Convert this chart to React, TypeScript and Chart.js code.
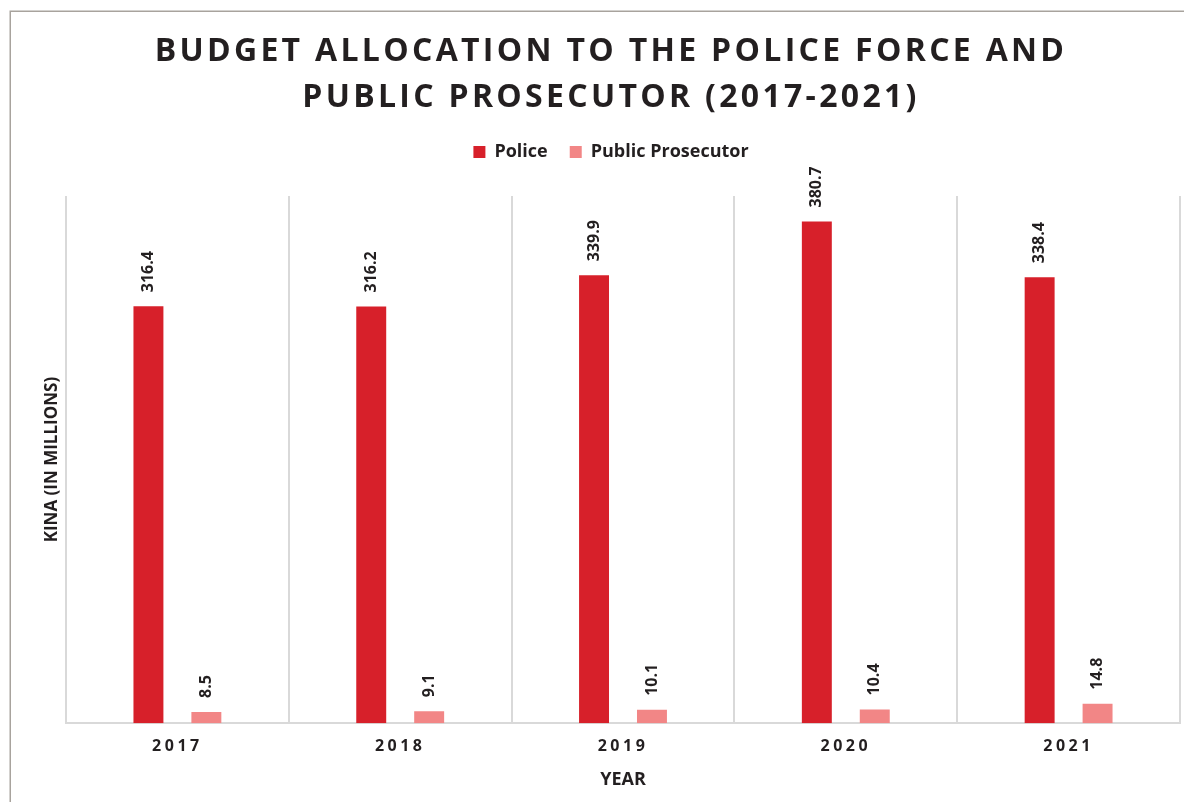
import React, { useEffect, useRef } from "react";
import { Chart, registerables } from "chart.js";

Chart.register(...registerables);

// ---- data ----
const categories = ["2017", "2018", "2019", "2020", "2021"];
const policeValues = [316.4, 316.2, 339.9, 380.7, 338.4];
const prosecutorValues = [8.5, 9.1, 10.1, 10.4, 14.8];
const seriesNames = ["Police", "Public Prosecutor"];
const titleLines = [
  "BUDGET ALLOCATION TO THE POLICE FORCE AND",
  "PUBLIC PROSECUTOR (2017-2021)",
];
const xAxisTitle = "YEAR";
const yAxisTitle = "KINA (IN MILLIONS)";
const yMin = 0;
const yMax = 400;

// ---- styles ----
const FONT = "'Open Sans', 'DejaVu Sans', sans-serif";
const TEXT = "#231f20";
const POLICE_COLOR = "#d7202a";
const PROSECUTOR_COLOR = "#f28686";
const GRID_COLOR = "#d9d9d9";
const FRAME_COLOR = "#a8a39d";

function withSpacing(obj: any, method: string, spacing: string) {
  if (!obj || obj["__sp_" + method]) return;
  const orig = obj[method];
  obj[method] = function (...args: any[]) {
    const c = this.ctx as CanvasRenderingContext2D;
    c.save();
    (c as any).letterSpacing = spacing;
    try {
      return orig.apply(this, args);
    } finally {
      c.restore();
    }
  };
  obj["__sp_" + method] = true;
}

const customPlugin = {
  id: "customDecor",
  beforeLayout(chart: any) {
    const lg = chart.legend;
    if (lg && !lg.__fitWrapped) {
      const origFit = lg.fit;
      lg.fit = function () {
        origFit.call(this);
        this.height += 25;
      };
      lg.__fitWrapped = true;
    }
  },
  beforeDraw(chart: any) {
    const ctx = chart.ctx as CanvasRenderingContext2D;
    ctx.save();
    ctx.strokeStyle = FRAME_COLOR;
    ctx.lineWidth = 1.5;
    ctx.strokeRect(10.25, 11.25, 1400, 1000);
    ctx.restore();
    withSpacing(chart.titleBlock, "draw", "3.3px");
    withSpacing(chart.scales.x, "drawLabels", "3.5px");
  },
  afterDatasetsDraw(chart: any) {
    const ctx = chart.ctx as CanvasRenderingContext2D;
    ctx.save();
    ctx.font = `bold 16px ${FONT}`;
    ctx.fillStyle = TEXT;
    ctx.textAlign = "left";
    ctx.textBaseline = "middle";
    chart.data.datasets.forEach((ds: any, di: number) => {
      const meta = chart.getDatasetMeta(di);
      meta.data.forEach((el: any, i: number) => {
        const v = ds.data[i] as number;
        ctx.save();
        ctx.translate(el.x, el.y - 14);
        ctx.rotate(-Math.PI / 2);
        ctx.fillText(v.toFixed(1), 0, 0);
        ctx.restore();
      });
    });
    ctx.restore();
  },
};

export default function App() {
  const canvasRef = useRef<HTMLCanvasElement | null>(null);

  useEffect(() => {
    let chart: Chart | null = null;
    let cancelled = false;
    const create = () => {
      if (cancelled || !canvasRef.current) return;
      chart = new Chart(canvasRef.current, {
        type: "bar",
        data: {
          labels: categories,
          datasets: [
            {
              label: seriesNames[0],
              data: policeValues,
              backgroundColor: POLICE_COLOR,
              barPercentage: 0.517,
              categoryPercentage: 0.52,
            },
            {
              label: seriesNames[1],
              data: prosecutorValues,
              backgroundColor: PROSECUTOR_COLOR,
              barPercentage: 0.517,
              categoryPercentage: 0.52,
            },
          ],
        },
        options: {
          responsive: false,
          animation: false,
          devicePixelRatio: 1,
          layout: { padding: { top: 0, left: 42, right: 4, bottom: 12 } },
          plugins: {
            title: {
              display: true,
              text: titleLines,
              color: TEXT,
              font: { family: FONT, size: 32, weight: "bold", lineHeight: 46 / 32 },
              padding: { top: 29, bottom: 0 },
            },
            legend: {
              display: true,
              position: "top",
              labels: {
                boxWidth: 12,
                boxHeight: 12,
                padding: 22,
                color: TEXT,
                font: { family: FONT, size: 18, weight: "bold" },
              },
            },
            tooltip: { enabled: false },
          },
          scales: {
            x: {
              grid: { display: true, color: GRID_COLOR, lineWidth: 2, drawTicks: false, offset: true },
              border: { display: true, color: GRID_COLOR, width: 2 },
              ticks: {
                color: TEXT,
                padding: 14,
                font: { family: FONT, size: 16, weight: "bold", lineHeight: 1.2 },
              },
              title: {
                display: true,
                text: xAxisTitle,
                color: TEXT,
                font: { family: FONT, size: 18, weight: "bold", lineHeight: 1.09 },
                padding: { top: 0, bottom: 0 },
              },
            },
            y: {
              min: yMin,
              max: yMax,
              ticks: { display: false },
              grid: { display: false, drawTicks: false },
              border: { display: false },
              title: {
                display: true,
                text: yAxisTitle,
                color: TEXT,
                font: { family: FONT, size: 17, weight: "bold", lineHeight: 1.2 },
                padding: { top: 0, bottom: 3.6 },
              },
            },
          },
        },
        plugins: [customPlugin],
      } as any);
    };
    const fontsReady = (document as any).fonts?.load
      ? Promise.all([
          (document as any).fonts.load(`bold 16px 'Open Sans'`),
        ]).catch(() => null)
      : Promise.resolve(null);
    fontsReady.then(create);
    return () => {
      cancelled = true;
      if (chart) chart.destroy();
    };
  }, []);

  return (
    <canvas
      ref={canvasRef}
      width={1184}
      height={802}
      style={{ position: "fixed", left: 0, top: 0, width: 1184, height: 802, display: "block", background: "#ffffff" }}
    />
  );
}
